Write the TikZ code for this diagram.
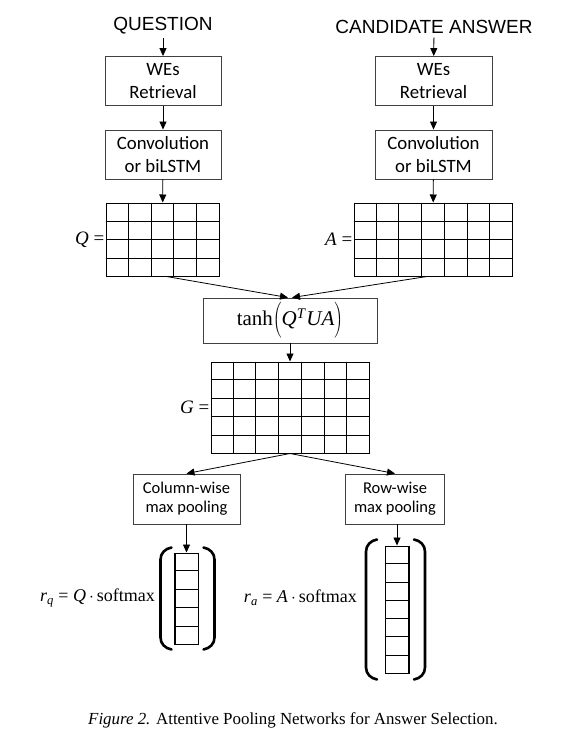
\documentclass[tikz,border=0pt]{standalone}
\usepackage{fontspec}
\setmainfont{Liberation Serif}
\newfontfamily\boxfont{Carlito}
\newfontfamily\headfont{Liberation Sans}
\usetikzlibrary{positioning}
\usetikzlibrary{calc}
\usetikzlibrary{arrows.meta}

% inner lines of a cell matrix: node, columns, rows
\newcommand{\cellgrid}[3]{%
  \pgfmathtruncatemacro{\lastcol}{#2-1}%
  \pgfmathtruncatemacro{\lastrow}{#3-1}%
  \foreach \k in {1,...,\lastcol}
    \draw[gridline] ($(#1.north west)!\k/#2!(#1.north east)$) -- ($(#1.south west)!\k/#2!(#1.south east)$);
  \foreach \k in {1,...,\lastrow}
    \draw[gridline] ($(#1.north west)!\k/#3!(#1.south west)$) -- ($(#1.north east)!\k/#3!(#1.south east)$);
}

% big round brackets around a vector: node, left gap, overhang
\newcommand{\vecparens}[3]{%
  \draw[paren] ([shift={(-#2,#3)}]#1.north west) to[out=190, in=90] ([shift={(-#2-11pt,#3-12pt)}]#1.north west)
    -- ([shift={(-#2-11pt,-#3+12pt)}]#1.south west) to[out=-90, in=170] ([shift={(-#2,-#3)}]#1.south west);
  \draw[paren] ([shift={(5pt,#3)}]#1.north east) to[out=-10, in=90] ([shift={(16pt,#3-12pt)}]#1.north east)
    -- ([shift={(16pt,-#3+12pt)}]#1.south east) to[out=-90, in=10] ([shift={(5pt,-#3)}]#1.south east);
}

\tikzset{
  stage/.style={draw=black!75, line width=0.9pt, align=center, inner sep=2pt,
    font=\boxfont\fontsize{18.8}{23}\selectfont, minimum width=116pt, minimum height=49pt},
  pool/.style={stage, font=\boxfont\fontsize{16.5}{19}\selectfont, minimum height=50pt},
  cellbox/.style={draw, line width=1pt, inner sep=0pt},
  gridline/.style={line width=1pt},
  flow/.style={-{Triangle[length=8pt,width=7pt]}, line width=0.8pt},
  paren/.style={line width=2.6pt, line cap=round},
  head/.style={font=\headfont\fontsize{19}{22}\selectfont},
  eqlabel/.style={font=\fontsize{19}{23}\selectfont, inner sep=1pt}
}

\begin{document}
\begin{tikzpicture}[x=1pt, y=-1pt]
  \useasboundingbox (0,0) rectangle (566,749);

  % question branch
  \node[head] (qhead) at (163,26) {QUESTION};
  \node[stage] (qwe) at (163,81) {WEs\\Retrieval};
  \node[stage] (qconv) at (163,154.5) {Convolution\\or biLSTM};
  \node[cellbox, minimum width=113pt, minimum height=73pt] (Qm) at (162.5,239.5) {};
  \cellgrid{Qm}{5}{4}
  \node[eqlabel, left=0pt of Qm] (Qeq) {\textit{Q} =};

  % answer branch
  \node[head] (ahead) at (434,27) {CANDIDATE ANSWER};
  \node[stage, minimum width=117pt] (awe) at (433.5,81) {WEs\\Retrieval};
  \node[stage, minimum width=117pt] (aconv) at (433.5,154.5) {Convolution\\or biLSTM};
  \node[cellbox, minimum width=158pt, minimum height=73pt] (Am) at (433,239.5) {};
  \cellgrid{Am}{7}{4}
  \node[eqlabel, left=0pt of Am] (Aeq) {\textit{A} =};

  % attention
  \node[stage, font=\fontsize{21}{24}\selectfont, minimum width=174pt, minimum height=45pt] (att) at (290,320.5)
    {tanh$\left(\rule[-9pt]{0pt}{31pt}\mbox{\textit{Q}\textsuperscript{\textit{T}}\textit{UA}}\right)$};
  \node[cellbox, minimum width=158pt, minimum height=91pt] (Gm) at (290,407.5) {};
  \cellgrid{Gm}{7}{5}
  \node[eqlabel, left=0pt of Gm] (Geq) {\textit{G} =};

  % pooling
  \node[pool, minimum width=107pt] (colpool) at (186.5,499) {Column-wise\\max pooling};
  \node[pool, minimum width=99pt] (rowpool) at (395,499) {Row-wise\\max pooling};

  \node[cellbox, minimum width=23pt, minimum height=91pt] (qvec) at (186.5,598.5) {};
  \cellgrid{qvec}{1}{5}
  \vecparens{qvec}{3pt}{5pt}
  \node[eqlabel, font=\fontsize{18}{22}\selectfont, anchor=east] (rq) at (156,598)
    {\textit{r}\textsubscript{\textit{q}} = \textit{Q}\,$\cdot$\,softmax};

  \node[cellbox, minimum width=23pt, minimum height=127pt] (avec) at (397,609.5) {};
  \cellgrid{avec}{1}{7}
  \vecparens{avec}{8pt}{6pt}
  \node[eqlabel, font=\fontsize{18}{22}\selectfont, anchor=east] (ra) at (358,598)
    {\textit{r}\textsubscript{\textit{a}} = \textit{A}\,$\cdot$\,softmax};

  % connectors
  \draw[flow] (qhead) -- (qwe);
  \draw[flow] (qwe) -- (qconv);
  \draw[flow] (qconv) -- (Qm);
  \draw[flow] (ahead) -- (awe);
  \draw[flow] (awe) -- (aconv);
  \draw[flow] (aconv) -- (Am);
  \draw[flow] ([xshift=4pt]Qm.south) -- ([xshift=-2pt]att.north);
  \draw[flow] ([xshift=-6pt]Am.south) -- ([xshift=2pt]att.north);
  \draw[flow] (att) -- (Gm);
  \draw[flow] (Gm.south) -- (colpool.north);
  \draw[flow] (Gm.south) -- (rowpool.north);
  \draw[flow] (colpool) -- (qvec);
  \draw[flow] (rowpool.south -| avec.north) -- (avec.north);

  \node[font=\fontsize{16.9}{20}\selectfont] (caption) at (293,720)
    {\textit{Figure 2.} Attentive Pooling Networks for Answer Selection.};
\end{tikzpicture}
\end{document}
